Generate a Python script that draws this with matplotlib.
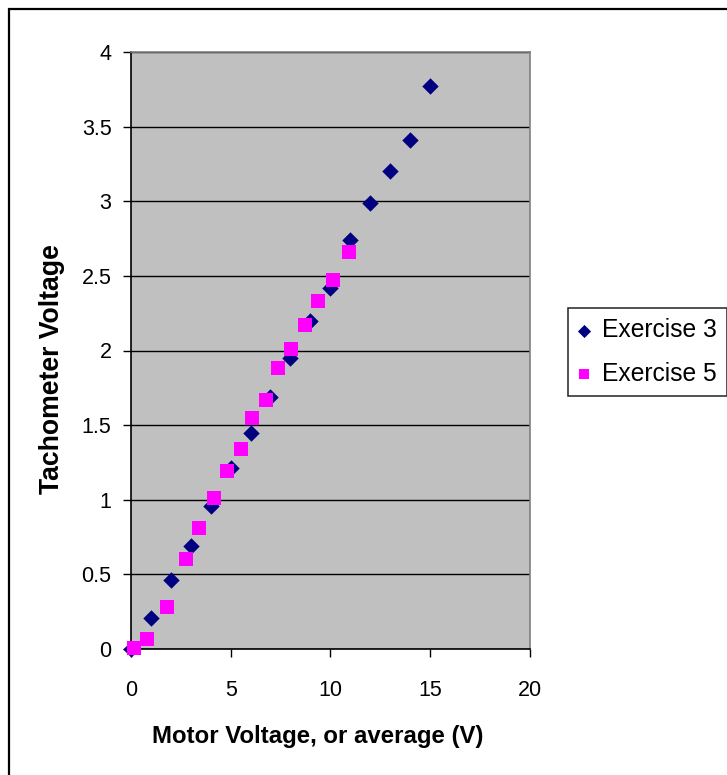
import matplotlib
matplotlib.use("Agg")
import matplotlib.pyplot as plt
from matplotlib.patches import Rectangle

plt.rcParams['font.family'] = ['Liberation Sans', 'DejaVu Sans']

ex3_x = [0, 1, 2, 3, 4, 5, 6, 7, 8, 9, 10, 11, 12, 13, 14, 15]
ex3_y = [0.0, 0.21, 0.46, 0.69, 0.96, 1.21, 1.45, 1.69, 1.95, 2.20, 2.42, 2.74, 2.99, 3.20, 3.41, 3.77]

ex5_x = [0.15, 0.82, 1.81, 2.78, 3.43, 4.15, 4.84, 5.51, 6.09, 6.79, 7.36, 8.03, 8.72, 9.39, 10.16, 10.93]
ex5_y = [0.01, 0.064, 0.28, 0.60, 0.81, 1.01, 1.19, 1.34, 1.55, 1.67, 1.88, 2.01, 2.17, 2.33, 2.47, 2.66]

x_ticks = [0, 5, 10, 15, 20]
y_ticks = [0, 0.5, 1, 1.5, 2, 2.5, 3, 3.5, 4]
y_tick_labels = ['0', '0.5', '1', '1.5', '2', '2.5', '3', '3.5', '4']

W, H = 727, 775
fig = plt.figure(figsize=(W / 100, H / 100), dpi=100)
fig.patch.set_facecolor('white')

# outer chart border (left & top visible)
fig.add_artist(Rectangle((9 / W, -0.2), 1.5, 1 - 9 / H + 0.2, transform=fig.transFigure,
                         fill=False, edgecolor='black', linewidth=1.6))

ax = fig.add_axes([131 / W, 1 - 649 / H, (529.5 - 131) / W, (649 - 52) / H])
ax.set_facecolor('#C0C0C0')
ax.set_xlim(0, 20)
ax.set_ylim(0, 4)
ax.set_xticks(x_ticks)
ax.set_yticks(y_ticks)
ax.set_yticklabels(y_tick_labels)
ax.set_axisbelow(True)
ax.yaxis.grid(True, color='black', linewidth=1.0)
ax.xaxis.grid(False)

for s in ['top', 'right']:
    ax.spines[s].set_color('#808080')
    ax.spines[s].set_linewidth(1.2)
for s in ['left', 'bottom']:
    ax.spines[s].set_color('black')
    ax.spines[s].set_linewidth(1.2)

ax.tick_params(axis='both', direction='out', length=6, width=1.0, color='black',
               labelsize=15.5)
ax.tick_params(axis='x', pad=16)
ax.tick_params(axis='y', pad=8)

ax.scatter(ex3_x, ex3_y, marker='D', s=70, color='#000080', linewidths=0,
           label='Exercise 3', zorder=3, clip_on=False)
ax.scatter(ex5_x, ex5_y, marker='s', s=90, color='#FF00FF', linewidths=0,
           label='Exercise 5', zorder=4, clip_on=False)

ax.set_xlabel('Motor Voltage, or average (V)', fontsize=17.3, fontweight='bold')
ax.set_ylabel('Tachometer Voltage', fontsize=19.2, fontweight='bold')
ax.xaxis.set_label_coords((318 - 131) / (529.5 - 131), -(725 - 649) / (649 - 52))
ax.yaxis.set_label_coords(-(131 - 65) / (529.5 - 131), (649 - 369) / (649 - 52))

leg = fig.legend(loc='upper left', bbox_to_anchor=(568 / W, 1 - 308 / H),
                 frameon=True, fancybox=False, fontsize=17.7, borderpad=0.42,
                 handletextpad=0.45, handlelength=0.5, labelspacing=0.78,
                 borderaxespad=0, markerscale=0.8)
leg.get_frame().set_edgecolor('black')
leg.get_frame().set_linewidth(1.2)

fig.savefig('out.png', dpi=100)
